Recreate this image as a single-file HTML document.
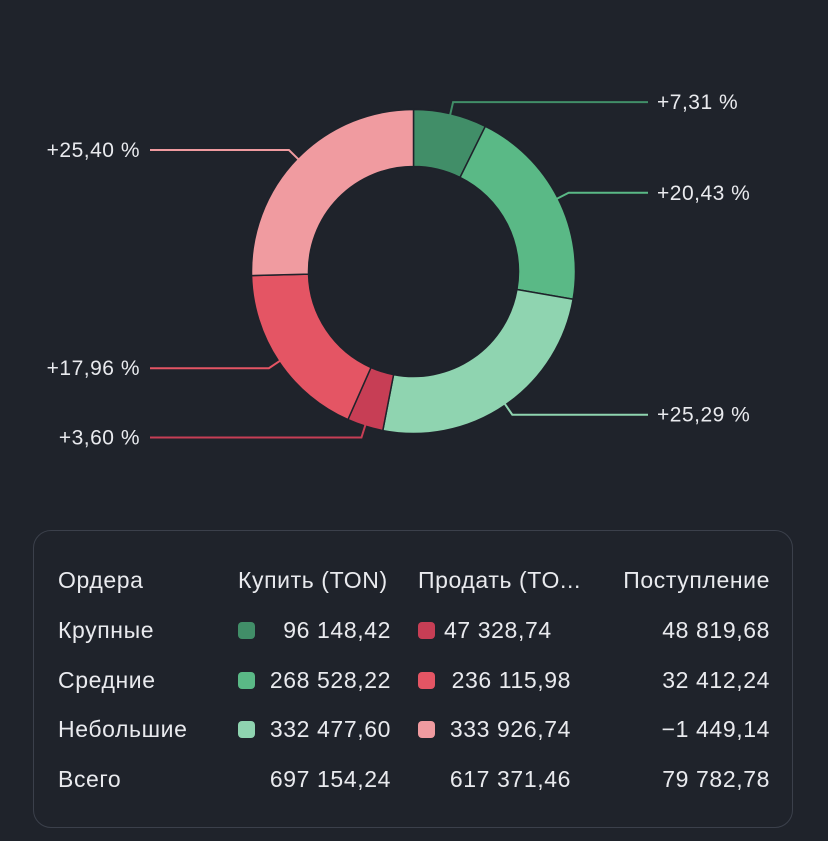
<!DOCTYPE html>
<html><head><meta charset="utf-8">
<style>
html,body{margin:0;padding:0;background:#1f232b;}
body{width:828px;height:841px;position:relative;overflow:hidden;font-family:"Liberation Sans","DejaVu Sans",sans-serif;color:#e9eaee;}
#chart{position:absolute;left:0;top:0;}
.card{position:absolute;left:33px;top:530px;width:760px;height:298px;border:1.5px solid #3b404b;border-radius:18px;box-sizing:border-box;}
.t{position:absolute;font-size:23px;letter-spacing:0.6px;white-space:nowrap;line-height:1;}
.r{text-align:right;}
.sw{position:absolute;width:17px;height:17px;border-radius:4px;}
</style></head><body>
<svg id="chart" width="828" height="500"></svg>
<div class="card"></div>
<div id="tbl"></div>
<script>
const sliceLabels = ["+7,31 %","+20,43 %","+25,29 %","+3,60 %","+17,96 %","+25,40 %"];
const sliceValues = [7.31,20.43,25.29,3.60,17.96,25.40];
const sliceColors = ["#418e68","#5ab986","#8fd4b0","#c73e55","#e45564","#f09ba0"];
const sliceNames = ["buy-large","buy-medium","buy-small","sell-large","sell-medium","sell-small"];

const NS="http://www.w3.org/2000/svg";
const svg=document.getElementById('chart');
const cx=413.5, cy=271.5, R=162, r=105;
const total=sliceValues.reduce((a,b)=>a+b,0);
function pt(a,rad){return [cx+rad*Math.sin(a), cy-rad*Math.cos(a)];}
let acc=0;
sliceValues.forEach((v,i)=>{
  const a0=acc/total*2*Math.PI, a1=(acc+v)/total*2*Math.PI; acc+=v;
  const large=(a1-a0)>Math.PI?1:0;
  const p0=pt(a0,R),p1=pt(a1,R),q1=pt(a1,r),q0=pt(a0,r);
  const path=document.createElementNS(NS,'path');
  path.setAttribute('d',`M${p0[0]},${p0[1]} A${R},${R} 0 ${large} 1 ${p1[0]},${p1[1]} L${q1[0]},${q1[1]} A${r},${r} 0 ${large} 0 ${q0[0]},${q0[1]} Z`);
  path.setAttribute('fill',sliceColors[i]);
  path.setAttribute('stroke','#1f232b');
  path.setAttribute('stroke-width','1.5');
  
  
  svg.appendChild(path);
  const am=(a0+a1)/2;
  const s=pt(am,R-2), e=pt(am,R+12);
  const right=Math.sin(am)>0;
  const endX=right?648:150;
  const line=document.createElementNS(NS,'polyline');
  line.setAttribute('points',`${s[0]},${s[1]} ${e[0]},${e[1]} ${endX},${e[1]}`);
  line.setAttribute('fill','none');
  line.setAttribute('stroke',sliceColors[i]);
  line.setAttribute('stroke-width','2');
  
  
  svg.appendChild(line);
  const tx=document.createElementNS(NS,'text');
  tx.setAttribute('x',right?endX+9:endX-10);
  tx.setAttribute('y',e[1]+7);
  tx.setAttribute('text-anchor',right?'start':'end');
  tx.setAttribute('fill','#e9eaee');
  tx.setAttribute('font-size','21');
  tx.setAttribute('letter-spacing','0.5');
  tx.setAttribute('font-family','"Liberation Sans",sans-serif');
  tx.textContent=sliceLabels[i];
  
  
  svg.appendChild(tx);
});

const rowNames=["Крупные","Средние","Небольшие","Всего"];
const buyVals=["96 148,42","268 528,22","332 477,60","697 154,24"];
const sellVals=["47 328,74","236 115,98","333 926,74","617 371,46"];
const incVals=["48 819,68","32 412,24","−1 449,14","79 782,78"];
const buyColors=["#418e68","#5ab986","#8fd4b0"];
const sellColors=["#c73e55","#e45564","#f09ba0"];
const tbl=document.getElementById('tbl');
function add(txt,x,y,cls,name,w){
  const d=document.createElement('div');
  d.className='t'+(cls?' '+cls:'');
  d.textContent=txt;
  d.style.top=(y-11)+'px';
  if(cls==='r'){d.style.left=(x-w)+'px';d.style.width=w+'px';}else d.style.left=x+'px';
  
  
  tbl.appendChild(d);
}
function sw(c,x,y,name){
  const d=document.createElement('div');
  d.className='sw';d.style.background=c;d.style.left=x+'px';d.style.top=(y-8)+'px';
  
  
  tbl.appendChild(d);
}
const hy=580;
add("Ордера",58,hy,'','header-orders');
add("Купить (TON)",238,hy,'','header-buy');
add("Продать (TO...",418,hy,'','header-sell');
add("Поступление",770,hy,'r','header-income',200);
const ys=[630,680,729,779];
rowNames.forEach((n,i)=>{
  const y=ys[i];
  add(n,58,y,'','row-label');
  if(i<3){sw(buyColors[i],238,y,'buy-swatch');sw(sellColors[i],418,y,'sell-swatch');}
  add(buyVals[i],391,y,'r','buy-value',150);
  if(i===0) add(sellVals[i],444,y,'','sell-value'); else add(sellVals[i],571,y,'r','sell-value',150);
  add(incVals[i],770,y,'r','income-value',180);
});
</script>
</body></html>
